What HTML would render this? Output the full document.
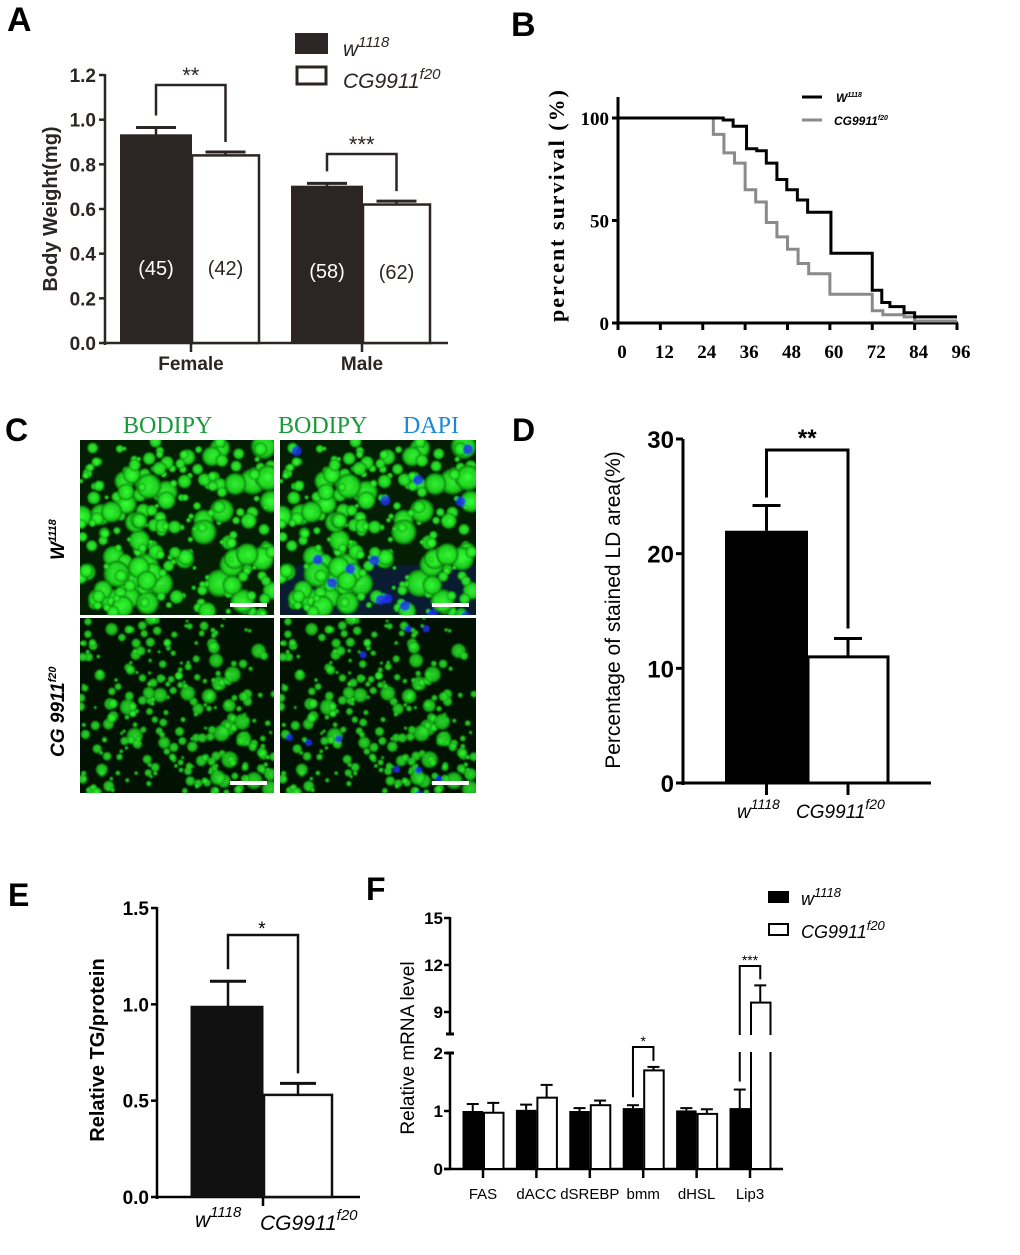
<!DOCTYPE html>
<html><head><meta charset="utf-8"><style>
html,body{margin:0;padding:0;background:#fff;}
svg{display:block;font-family:"Liberation Sans",Arial,sans-serif;}
</style></head><body>
<svg id="fig" width="1020" height="1255" viewBox="0 0 1020 1255" xmlns="http://www.w3.org/2000/svg">
<g id="A"></g>
<g id="B"></g>
<g id="C"></g>
<g id="D"></g>
<g id="E"></g>
<g id="F"></g>
</svg>
<script>
// ---- Panel A data
const aGroups = ["Female","Male"];
const aWT = [0.93, 0.70];
const aWTerr = [0.035, 0.015];
const aMut = [0.84, 0.62];
const aMutErr = [0.015, 0.015];
const aN = [["(45)","(42)"],["(58)","(62)"]];
const aTicks = ["0.0","0.2","0.4","0.6","0.8","1.0","1.2"];
// ---- Panel B data
const bWTt = [0,29.8,32.6,36.4,39.3,42,45,47.8,50.8,53.7,60.3,72,74.7,77,81,84,96];
const bWTp = [100,99,96,85,84,78,70,65,60,54,34,16,10,8,5,3,3];
const bMutT = [0,27,30,33,36,39,42,45,48,51,54,60,72,75,81,84,96];
const bMutP = [100,92,83,78,65,59,49,42,36,29,24,14,6,4,3,1,1];
const bXTicks = ["0","12","24","36","48","60","72","84","96"];
const bYTicks = ["0","50","100"];
// ---- Panel D data
const dVals = [22, 11];
const dErr = [2.2, 1.6];
const dTicks = ["0","10","20","30"];
// ---- Panel E data
const eVals = [0.99, 0.53];
const eErr = [0.13, 0.06];
const eTicks = ["0.0","0.5","1.0","1.5"];
// ---- Panel F data
const fGenes = ["FAS","dACC","dSREBP","bmm","dHSL","Lip3"];
const fWT = [1.0,1.02,1.0,1.05,1.01,1.05];
const fWTerr = [0.12,0.09,0.05,0.05,0.04,0.32];
const fMut = [0.97,1.23,1.1,1.7,0.95,9.6];
const fMutErr = [0.17,0.22,0.08,0.06,0.08,1.1];
const fLowTicks = ["0","1","2"];
const fHighTicks = ["9","12","15"];

const NS="http://www.w3.org/2000/svg";
function mk(parent,tag,attrs,text){const e=document.createElementNS(NS,tag);for(const k in attrs)e.setAttribute(k,attrs[k]);if(text!==undefined)e.textContent=text;parent.appendChild(e);return e;}
const fig=document.getElementById('fig');
function label(txt,x,y,size){const t=mk(fig,'text',{x:x,y:y,'font-size':size||34,'font-weight':'bold',fill:'#000'},txt);

}
label('A',7,31);label('B',511,36);label('C',5,441,32);label('D',512,441,32);label('E',8,906,32);label('F',366,900,32);

// ===== Panel A =====
(function(){
const g=document.getElementById('A');const col='#2b2523';
const y=v=>343-v*(268/1.2);const x0=105;
mk(g,'line',{x1:x0,y1:74,x2:x0,y2:345,stroke:col,'stroke-width':2.5});
mk(g,'line',{x1:x0-2,y1:343,x2:448,y2:343,stroke:col,'stroke-width':2.5});
aTicks.forEach((t,i)=>{const v=parseFloat(t);mk(g,'line',{x1:x0-6,y1:y(v),x2:x0,y2:y(v),stroke:col,'stroke-width':2.5});
const tx=mk(g,'text',{x:x0-9,y:y(v)+7,'font-size':19,'font-weight':'bold','text-anchor':'end',fill:col},t);

});
const yl=mk(g,'text',{transform:'translate(57,209) rotate(-90)','font-size':20,'font-weight':'bold','text-anchor':'middle',fill:col},'Body Weight(mg)');


const starts=[121,292];const bw=70;
aGroups.forEach((gname,i)=>{
 const xs=starts[i];
 const b1=mk(g,'rect',{x:xs,y:y(aWT[i]),width:bw,height:343-y(aWT[i]),fill:col,stroke:col,'stroke-width':2});
 
 
 const b2=mk(g,'rect',{x:xs+bw+1,y:y(aMut[i]),width:bw-3,height:343-y(aMut[i]),fill:'#fff',stroke:col,'stroke-width':2.5});
 
 
 const c1=xs+bw/2,c2=xs+bw+1+(bw-3)/2;
 mk(g,'line',{x1:c1,y1:y(aWT[i]),x2:c1,y2:y(aWT[i]+aWTerr[i]),stroke:col,'stroke-width':2.5});
 mk(g,'line',{x1:c1-20,y1:y(aWT[i]+aWTerr[i]),x2:c1+20,y2:y(aWT[i]+aWTerr[i]),stroke:col,'stroke-width':3});
 mk(g,'line',{x1:c2,y1:y(aMut[i]),x2:c2,y2:y(aMut[i]+aMutErr[i]),stroke:col,'stroke-width':2.5});
 mk(g,'line',{x1:c2-20,y1:y(aMut[i]+aMutErr[i]),x2:c2+20,y2:y(aMut[i]+aMutErr[i]),stroke:col,'stroke-width':3});
 const n1=mk(g,'text',{x:c1,y:275+i*3,'font-size':20,'text-anchor':'middle',fill:'#fff'},aN[i][0]);
 
 
 const n2=mk(g,'text',{x:c2,y:275+i*4,'font-size':20,'text-anchor':'middle',fill:col},aN[i][1]);
 
 
 mk(g,'line',{x1:xs+bw,y1:343,x2:xs+bw,y2:352,stroke:col,'stroke-width':2.5});
 const xl=mk(g,'text',{x:xs+bw,y:370,'font-size':19,'font-weight':'bold','text-anchor':'middle',fill:col},gname);
 
 
 const by=i==0?85:154;const top1=y(aWT[i]+aWTerr[i])-12, top2=y(aMut[i]+aMutErr[i])-10;
 mk(g,'polyline',{points:`${c1},${top1} ${c1},${by} ${c2},${by} ${c2},${top2}`,fill:'none',stroke:col,'stroke-width':2.5});
 const st=mk(g,'text',{x:(c1+c2)/2,y:by-2,'font-size':22,'text-anchor':'middle',fill:col},i==0?'**':'***');
 
 
});
mk(g,'rect',{x:296,y:34,width:31,height:19,fill:col,stroke:col,'stroke-width':2});
mk(g,'rect',{x:297,y:67,width:29,height:17,fill:'#fff',stroke:col,'stroke-width':3});
const l1=mk(g,'text',{x:343,y:56,'font-size':21,'font-style':'italic',fill:col});l1.innerHTML='w<tspan dy="-9" font-size="15">1118</tspan>';


const l2=mk(g,'text',{x:343,y:88,'font-size':21,'font-style':'italic',fill:col});l2.innerHTML='CG9911<tspan dy="-9" font-size="15">f20</tspan>';


})();

// ===== Panel B =====
(function(){
const g=document.getElementById('B');
const x=t=>618+t*(339/96), y=p=>323-p*2.05;
mk(g,'line',{x1:618,y1:97,x2:618,y2:325,stroke:'#000','stroke-width':3});
mk(g,'line',{x1:616,y1:323,x2:958,y2:323,stroke:'#000','stroke-width':3});
bXTicks.forEach(t=>{const v=+t;mk(g,'line',{x1:x(v),y1:323,x2:x(v),y2:330,stroke:'#000','stroke-width':3});
const tx=mk(g,'text',{x:x(v)+4,y:358,'font-size':19,'font-weight':'bold','font-family':'Liberation Serif,serif','text-anchor':'middle'},t);

});
bYTicks.forEach(t=>{const v=+t;mk(g,'line',{x1:612,y1:y(v),x2:618,y2:y(v),stroke:'#000','stroke-width':3});
const tx=mk(g,'text',{x:609,y:y(v)+7,'font-size':19,'font-weight':'bold','font-family':'Liberation Serif,serif','text-anchor':'end'},t);

});
const yl=mk(g,'text',{transform:'translate(564,205) rotate(-90)','font-size':22,'font-weight':'bold','font-family':'Liberation Serif,serif','text-anchor':'middle','letter-spacing':'2'},'percent survival (%)');


function step(ts,ps,color,name){let d=`M${x(ts[0])},${y(ps[0])}`;for(let i=1;i<ts.length;i++){d+=` H${x(ts[i])} V${y(ps[i])}`;}
const p=mk(g,'path',{d:d,fill:'none',stroke:color,'stroke-width':3});

}
step(bMutT,bMutP,'#8a8a8a','b-line-mut');
step(bWTt,bWTp,'#000','b-line-wt');
mk(g,'line',{x1:802,y1:97,x2:822,y2:97,stroke:'#000','stroke-width':3});
mk(g,'line',{x1:802,y1:120,x2:822,y2:120,stroke:'#8a8a8a','stroke-width':3});
const l1=mk(g,'text',{x:836,y:102,'font-size':12,'font-weight':'bold','font-style':'italic'});l1.innerHTML='W<tspan dy="-5" font-size="7">1118</tspan>';


const l2=mk(g,'text',{x:834,y:125,'font-size':12,'font-weight':'bold','font-style':'italic'});l2.innerHTML='CG9911<tspan dy="-5" font-size="7">f20</tspan>';


})();

// ===== Panel C (micrograph texture) =====
(function(){
const g=document.getElementById('C');
let s=12345;const rnd=()=>{s=(s*16807)%2147483647;return s/2147483647;};
const t1=mk(g,'text',{x:123,y:433,'font-size':24,'font-family':'Liberation Serif,serif',fill:'#1a9a3a'},'BODIPY');


const t2=mk(g,'text',{x:278,y:433,'font-size':24,'font-family':'Liberation Serif,serif',fill:'#1a9a3a'},'BODIPY');


const t3=mk(g,'text',{x:403,y:433,'font-size':24,'font-family':'Liberation Serif,serif',fill:'#1a8ad8'},'DAPI');


const r1=mk(g,'text',{transform:'translate(64,560) rotate(-90)','font-size':19,'font-weight':'bold','font-style':'italic'});r1.innerHTML='W<tspan dy="-8" font-size="11">1118</tspan>';


const r2=mk(g,'text',{transform:'translate(64,757) rotate(-90)','font-size':19,'font-weight':'bold','font-style':'italic'});r2.innerHTML='CG 9911<tspan dy="-8" font-size="11">f20</tspan>';


const defs=mk(fig,'defs',{});
const rg=mk(defs,'radialGradient',{id:'gdot'});
mk(rg,'stop',{offset:'0','stop-color':'#3aff3a'});mk(rg,'stop',{offset:'0.7','stop-color':'#1fe01f'});mk(rg,'stop',{offset:'1','stop-color':'#0a6a0a'});
const fb=mk(defs,'filter',{id:'blur'});mk(fb,'feGaussianBlur',{stdDeviation:'0.8'});
const panels=[[80,440,194,175,0,false],[280,440,196,175,0,true],[80,618,194,175,1,false],[280,618,196,175,1,true]];
const sets=[[],[]];
for(let r=0;r<2;r++){const n=r==0?260:280;for(let i=0;i<n;i++){const rr=rnd();const rad=r==0?(rr<0.25?7+rnd()*7:2+rnd()*5):(rr<0.12?5+rnd()*4:1.5+rnd()*3.5);sets[r].push([rnd()*194,rnd()*175,rad]);}}
panels.forEach((p,pi)=>{
 const [px,py,pw,ph,row,dapi]=p;
 const cp=mk(defs,'clipPath',{id:'cp'+pi});mk(cp,'rect',{x:px,y:py,width:pw,height:ph});
 const pg=mk(g,'g',{'clip-path':`url(#cp${pi})`});
 
 
 mk(pg,'rect',{x:px,y:py,width:pw,height:ph,fill:row==0?'#041e04':'#021202'});
 if(dapi&&row==0){mk(pg,'rect',{x:px,y:py+125,width:pw,height:50,fill:'#0a1a50',opacity:0.6,filter:'url(#blur)'});}
 const cg=mk(pg,'g',{filter:'url(#blur)'});
 sets[row].forEach(c=>{mk(cg,'circle',{cx:px+c[0],cy:py+c[1],r:c[2],fill:'url(#gdot)',opacity:row==0?0.92:0.8});});
 if(dapi){for(let k=0;k<(row==0?14:10);k++){const c=sets[row][k*7];mk(cg,'circle',{cx:px+c[0]+4,cy:py+c[1]+3,r:row==0?5:3.5,fill:'#2030ff',opacity:0.8});}}
 mk(pg,'rect',{x:px+pw-44,y:py+ph-12,width:37,height:4,fill:'#fff'});
});
})();

// ===== Panel D =====
(function(){
const g=document.getElementById('D');
const y=v=>783-v*(344/30);const x0=683;
mk(g,'line',{x1:x0,y1:439,x2:x0,y2:785,stroke:'#000','stroke-width':3});
mk(g,'line',{x1:x0-2,y1:783,x2:931,y2:783,stroke:'#000','stroke-width':3});
dTicks.forEach(t=>{const v=+t;mk(g,'line',{x1:x0-7,y1:y(v),x2:x0,y2:y(v),stroke:'#000','stroke-width':3});
const tx=mk(g,'text',{x:x0-9,y:y(v)+9,'font-size':24,'font-weight':'bold','text-anchor':'end'},t);

});
const yl=mk(g,'text',{transform:'translate(620,610) rotate(-90)','font-size':21,'text-anchor':'middle'},'Percentage of stained LD area(%)');


const xs=[725,808],ws=[83,80];
dVals.forEach((v,i)=>{
 const b=mk(g,'rect',{x:xs[i],y:y(v),width:ws[i],height:783-y(v),fill:i?'#fff':'#000',stroke:'#000','stroke-width':i?3:0});
 
 
 const c=xs[i]+ws[i]/2;
 mk(g,'line',{x1:c,y1:y(v),x2:c,y2:y(v+dErr[i]),stroke:'#000','stroke-width':3});
 mk(g,'line',{x1:c-14,y1:y(v+dErr[i]),x2:c+14,y2:y(v+dErr[i]),stroke:'#000','stroke-width':3});
 mk(g,'line',{x1:c,y1:783,x2:c,y2:795,stroke:'#000','stroke-width':3});
});
const c1=xs[0]+ws[0]/2,c2=xs[1]+ws[1]/2;
mk(g,'polyline',{points:`${c1},${y(dVals[0]+dErr[0])-8} ${c1},450 ${c2},450 ${c2},${y(dVals[1]+dErr[1])-10}`,fill:'none',stroke:'#000','stroke-width':3});
const st=mk(g,'text',{x:(c1+c2)/2,y:446,'font-size':24,'font-weight':'bold','text-anchor':'middle'},'**');


const a=mk(g,'text',{x:737,y:818,'font-size':19,'font-style':'italic'});a.innerHTML='w<tspan dy="-9" font-size="14">1118</tspan>';


const b=mk(g,'text',{x:796,y:818,'font-size':19,'font-style':'italic'});b.innerHTML='CG9911<tspan dy="-9" font-size="14">f20</tspan>';


})();

// ===== Panel E =====
(function(){
const g=document.getElementById('E');
const y=v=>1197-v*(289/1.5);const x0=157;
mk(g,'line',{x1:x0,y1:907,x2:x0,y2:1199,stroke:'#000','stroke-width':2.5});
mk(g,'line',{x1:x0-2,y1:1197,x2:360,y2:1197,stroke:'#000','stroke-width':2.5});
eTicks.forEach(t=>{const v=+t;mk(g,'line',{x1:x0-6,y1:y(v),x2:x0,y2:y(v),stroke:'#000','stroke-width':2.5});
const tx=mk(g,'text',{x:x0-8,y:y(v)+7,'font-size':19,'font-weight':'bold','text-anchor':'end'},t);

});
const yl=mk(g,'text',{transform:'translate(104,1050) rotate(-90)','font-size':20,'font-weight':'bold','text-anchor':'middle'},'Relative TG/protein');


const xs=[191,264],ws=[72,68];
eVals.forEach((v,i)=>{
 const b=mk(g,'rect',{x:xs[i],y:y(v),width:ws[i],height:1197-y(v),fill:i?'#fff':'#111',stroke:'#111','stroke-width':i?2.5:1});
 
 
 const c=i?298:228;
 mk(g,'line',{x1:c,y1:y(v),x2:c,y2:y(v+eErr[i]),stroke:'#111','stroke-width':2.5});
 mk(g,'line',{x1:c-18,y1:y(v+eErr[i]),x2:c+18,y2:y(v+eErr[i]),stroke:'#111','stroke-width':3});
});
mk(g,'line',{x1:263,y1:1197,x2:263,y2:1206,stroke:'#000','stroke-width':2.5});
mk(g,'polyline',{points:`228,${y(eVals[0]+eErr[0])-12} 228,935 298,935 298,${y(eVals[1]+eErr[1])-10}`,fill:'none',stroke:'#111','stroke-width':2.5});
const st=mk(g,'text',{x:262,y:935,'font-size':19,'text-anchor':'middle'},'*');


const a=mk(g,'text',{x:195,y:1227,'font-size':21,'font-style':'italic'});a.innerHTML='w<tspan dy="-10" font-size="15">1118</tspan>';


const b=mk(g,'text',{x:260,y:1230,'font-size':21,'font-style':'italic'});b.innerHTML='CG9911<tspan dy="-10" font-size="15">f20</tspan>';


})();

// ===== Panel F =====
(function(){
const g=document.getElementById('F');
const x0=450,base=1169;
const yLow=v=>base-v*58;
const yHigh=v=>1012-(v-9)*(47/3);
const y=v=>v<=2?yLow(v):yHigh(Math.max(v,7.6));
mk(g,'line',{x1:x0,y1:1053,x2:x0,y2:1170,stroke:'#000','stroke-width':2.5});
mk(g,'line',{x1:x0,y1:917,x2:x0,y2:1034,stroke:'#000','stroke-width':2.5});
mk(g,'line',{x1:x0-4,y1:1034,x2:x0+4,y2:1034,stroke:'#000','stroke-width':3});
mk(g,'line',{x1:x0-4,y1:1053,x2:x0+4,y2:1053,stroke:'#000','stroke-width':3});
mk(g,'line',{x1:x0-6,y1:base,x2:783,y2:base,stroke:'#000','stroke-width':2.5});
fLowTicks.forEach(t=>{const v=+t;mk(g,'line',{x1:x0-6,y1:yLow(v),x2:x0,y2:yLow(v),stroke:'#000','stroke-width':2.5});
const tx=mk(g,'text',{x:x0-7,y:yLow(v)+6,'font-size':17,'font-weight':'bold','text-anchor':'end'},t);

});
fHighTicks.forEach(t=>{const v=+t;mk(g,'line',{x1:x0-6,y1:yHigh(v),x2:x0,y2:yHigh(v),stroke:'#000','stroke-width':2.5});
const tx=mk(g,'text',{x:x0-7,y:yHigh(v)+6,'font-size':17,'font-weight':'bold','text-anchor':'end'},t);

});
const yl=mk(g,'text',{transform:'translate(414,1048) rotate(-90)','font-size':19,'text-anchor':'middle'},'Relative mRNA level');


const step=53.4,bw=20.5;
fGenes.forEach((gn,i)=>{
 const c=483+i*step;
 const yw=y(fWT[i]),ym=y(fMut[i]);
 const b1=mk(g,'rect',{x:c-bw,y:yw,width:bw,height:base-yw,fill:'#000'});
 
 
 const b2=mk(g,'rect',{x:c+1,y:ym,width:bw-1,height:base-ym,fill:'#fff',stroke:'#000','stroke-width':2});
 
 
 if(fMut[i]>2){mk(g,'rect',{x:c-1,y:1035,width:bw+4,height:17,fill:'#fff'});}
 const cw=c-bw/2,cm=c+bw/2;
 mk(g,'line',{x1:cw,y1:yw,x2:cw,y2:y(fWT[i]+fWTerr[i]),stroke:'#000','stroke-width':2});
 mk(g,'line',{x1:cw-6,y1:y(fWT[i]+fWTerr[i]),x2:cw+6,y2:y(fWT[i]+fWTerr[i]),stroke:'#000','stroke-width':2});
 mk(g,'line',{x1:cm,y1:ym,x2:cm,y2:y(fMut[i]+fMutErr[i]),stroke:'#000','stroke-width':2});
 mk(g,'line',{x1:cm-6,y1:y(fMut[i]+fMutErr[i]),x2:cm+6,y2:y(fMut[i]+fMutErr[i]),stroke:'#000','stroke-width':2});
 mk(g,'line',{x1:c,y1:base,x2:c,y2:base+9,stroke:'#000','stroke-width':2.5});
 const xl=mk(g,'text',{x:c,y:1199,'font-size':15,'text-anchor':'middle'},gn);
 
 
});
function bracket(i,by,stars){const c=483+i*step,cw=c-bw/2,cm=c+bw/2;
 let top1=y(fWT[i]+fWTerr[i])-8,top2=y(fMut[i]+fMutErr[i])-6;
 mk(g,'polyline',{points:`${cw},${top1} ${cw},${by} ${cm},${by} ${cm},${top2}`,fill:'none',stroke:'#000','stroke-width':2});
 if(fMut[i]>2){mk(g,'rect',{x:cw-2,y:1035,width:4,height:17,fill:'#fff'});}
 const st=mk(g,'text',{x:(cw+cm)/2,y:by-1,'font-size':14,'text-anchor':'middle'},stars);
 
 }
bracket(3,1047,'*');bracket(5,966,'***');
mk(g,'rect',{x:768,y:891,width:21,height:12,fill:'#000'});
mk(g,'rect',{x:769,y:924,width:19,height:11,fill:'#fff',stroke:'#000','stroke-width':2});
const l1=mk(g,'text',{x:801,y:905,'font-size':18,'font-style':'italic'});l1.innerHTML='w<tspan dy="-8" font-size="13">1118</tspan>';


const l2=mk(g,'text',{x:801,y:938,'font-size':18,'font-style':'italic'});l2.innerHTML='CG9911<tspan dy="-8" font-size="13">f20</tspan>';


})();
</script>
</body></html>
